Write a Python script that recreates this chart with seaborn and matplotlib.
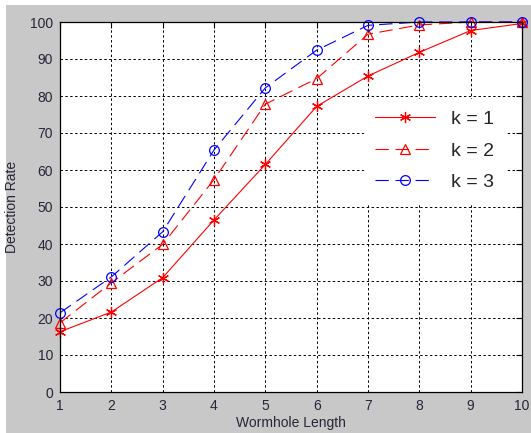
import numpy as np
import pandas as pd
import seaborn as sns
import matplotlib
matplotlib.use("Agg")
import matplotlib.pyplot as plt
from matplotlib.patches import Rectangle

# ---- data ----
wormhole_length = [1, 2, 3, 4, 5, 6, 7, 8, 9, 10]
k1 = [16.3, 21.6, 30.9, 46.5, 61.5, 77.2, 85.4, 91.8, 97.7, 99.6]
k2 = [18.7, 29.5, 39.9, 57.4, 77.8, 84.7, 96.7, 99.2, 100.0, 100.0]
k3 = [21.4, 31.1, 43.3, 65.4, 82.2, 92.4, 99.1, 100.0, 100.0, 100.0]
labels = ["k = 1", "k = 2", "k = 3"]
xticks = list(range(1, 11))
yticks = list(range(0, 101, 10))

sns.set_theme(style="white")
plt.rcParams['font.family'] = ['Liberation Sans', 'DejaVu Sans']

W, H = 531, 433
fig = plt.figure(figsize=(W / 100, H / 100), dpi=100, facecolor="white")
# gray panel (MATLAB figure background)
bg = Rectangle((6 / W, 0), 1 - 6 / W, (H - 5) / H,
               transform=fig.transFigure, facecolor="#c8c8c8",
               edgecolor="none", zorder=-10)
fig.add_artist(bg)

ax = fig.add_axes([60 / W, (H - 392) / H, (522 - 60) / W, (392 - 22) / H])
ax.set_zorder(1)
ax.set_facecolor("white")

df = pd.DataFrame({"x": wormhole_length * 3,
                   "y": k1 + k2 + k3,
                   "k": [labels[0]] * 10 + [labels[1]] * 10 + [labels[2]] * 10})

styles = {
    labels[0]: dict(color="#ff0000", marker=(6, 2, 0), ms=8),
    labels[1]: dict(color="#ff0000", marker="^", ms=7),
    labels[2]: dict(color="#0000ff", marker="o", ms=7),
}
for lab in labels:
    st = styles[lab]
    sub = df[df["k"] == lab]
    sns.lineplot(x="x", y="y", data=sub, ax=ax, color=st["color"], marker=st["marker"],
                 markersize=st["ms"], linewidth=0.8, label=lab, clip_on=False,
                 markerfacecolor="none",
                 markeredgecolor=st["color"], markeredgewidth=0.9)
lines = ax.get_lines()
lines[1].set_dashes((12, 6))
lines[2].set_dashes((12, 6))

ax.set_xlim(1, 10)
ax.set_ylim(0, 100)
ax.set_xticks(xticks)
ax.set_yticks(yticks)
ax.grid(True, color="black", linestyle=(0, (2.5, 2.5)), linewidth=0.7)
for s in ax.spines.values():
    s.set_color("black")
    s.set_linewidth(0.9)
ax.tick_params(direction="in", length=4, width=0.8, top=True, right=True,
               labelsize=10, labelcolor="#262638", pad=5, color="black")

ax.set_xlabel("Wormhole Length", fontsize=10, color="#262638", labelpad=2)
ax.set_ylabel("Detection Rate", fontsize=10, color="#262638", labelpad=8)

leg = ax.legend(loc="center left", bbox_to_anchor=(0.657, 0.652), frameon=True,
                fontsize=14, handlelength=3.1, handletextpad=0.8,
                labelspacing=0.72, borderpad=0.6, borderaxespad=0,
                facecolor="white", edgecolor="none", framealpha=1,
                fancybox=False)

fig.savefig("out.png", dpi=100, facecolor="white")
